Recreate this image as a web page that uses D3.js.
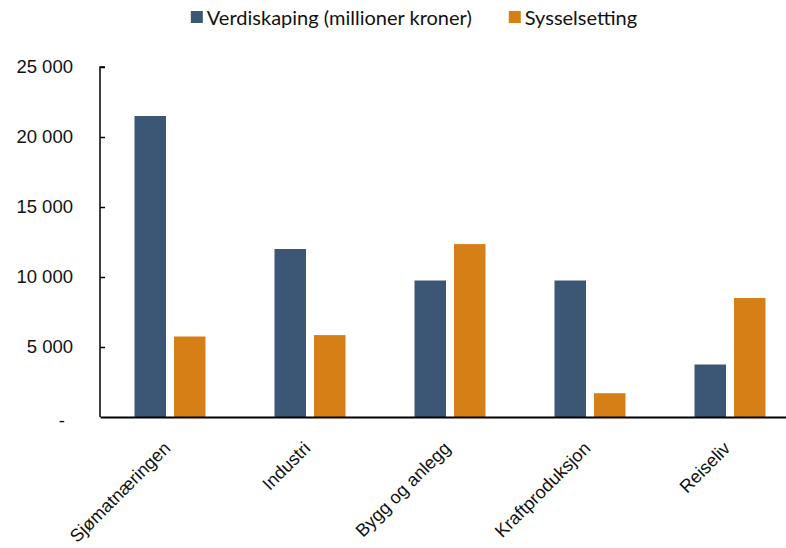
<!DOCTYPE html>
<html>
<head>
<meta charset="utf-8">
<script src="https://cdn.jsdelivr.net/npm/d3@7"></script>
<style>
  html, body { margin: 0; padding: 0; background: #fff; }
  svg { display: block; font-family: Lato, "Noto Sans", sans-serif; }
</style>
</head>
<body>
<svg id="chart" width="786" height="548"></svg>
<script>
const categories = ["Sjømatnæringen", "Industri", "Bygg og anlegg", "Kraftproduksjon", "Reiseliv"];
const seriesNames = ["Verdiskaping (millioner kroner)", "Sysselsetting"];
const verdiskaping = [21500, 12000, 9750, 9750, 3750];
const sysselsetting = [5750, 5850, 12350, 1700, 8500];
const yTicks = [0, 5000, 10000, 15000, 20000, 25000];
const colors = ["#3B5775", "#D77F17"];

const svg = d3.select("#chart");
const plot = { left: 100, right: 800, top: 67, bottom: 417 };

const x = d3.scaleBand().domain(categories).range([plot.left, plot.right]).padding(0);
const y = d3.scaleLinear().domain([0, 25000]).range([plot.bottom, plot.top]);
const barW = 31.5, innerGap = 8;
const x1 = d3.scaleOrdinal().domain([0, 1]).range([-innerGap / 2 - barW, innerGap / 2]);

const fmt = v => v === 0 ? "-" : d3.format(",")(v).replace(/,/g, " ");

// bars
const series = [verdiskaping, sysselsetting];
series.forEach((vals, si) => {
  svg.append("g").selectAll("rect").data(vals).join("rect")
    .attr("x", (d, i) => x(categories[i]) + x.bandwidth() / 2 + x1(si))
    .attr("y", d => y(d))
    .attr("width", barW)
    .attr("height", d => y(0) - y(d))
    .attr("fill", colors[si]);
});

// y axis
const yAxis = svg.append("g")
  .attr("transform", `translate(${plot.left},0)`)
  .call(d3.axisRight(y).tickValues(yTicks).tickSize(5).tickFormat(fmt));
yAxis.select(".domain").attr("stroke", "#000").attr("stroke-width", 1.5)
  .attr("d", `M5,${plot.top}H0V${plot.bottom}`);
yAxis.selectAll(".tick line").attr("stroke", "#000").attr("stroke-width", 1.5);
yAxis.selectAll(".tick text")
  .attr("x", -27).attr("text-anchor", "end")
  .attr("font-size", 18.5).attr("fill", "#111");
yAxis.selectAll(".tick").filter(d => d === 0).select("text").attr("x", -35).attr("dy", "0.5em");
yAxis.selectAll(".tick").filter(d => d === 0).select("line").remove();

// x axis
const xAxis = svg.append("g")
  .attr("transform", `translate(0,${plot.bottom})`)
  .call(d3.axisBottom(x).tickSize(0));
xAxis.select(".domain").attr("stroke", "#000").attr("stroke-width", 2.2);
xAxis.selectAll(".tick text")
  .attr("text-anchor", "end")
  .attr("font-size", 18)
  .attr("fill", "#111")
  .attr("y", 0).attr("dy", "0.35em")
  .attr("transform", "translate(-3,28) rotate(-45)");

// legend
const legend = svg.append("g");
let cx = 0;
const items = [];
seriesNames.forEach((name, i) => {
  const g = legend.append("g");
  g.append("rect").attr("x", 0).attr("y", 11).attr("width", 12).attr("height", 12).attr("fill", colors[i]);
  const t = g.append("text").attr("x", 16).attr("y", 25).attr("font-size", 20).attr("fill", "#111").text(name);
  items.push({ g, w: 16 + t.node().getComputedTextLength() });
});
const gap = 37;
const total = items.reduce((s, it) => s + it.w, 0) + gap * (items.length - 1);
cx = 414 - total / 2;
items.forEach(it => { it.g.attr("transform", `translate(${cx},0)`); cx += it.w + gap; });
</script>
</body>
</html>
